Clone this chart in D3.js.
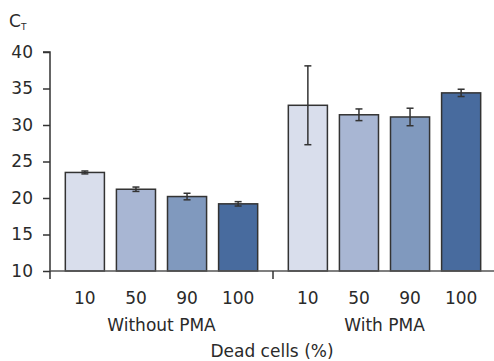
<!DOCTYPE html>
<html>
<head>
<meta charset="utf-8">
<script src="https://cdn.jsdelivr.net/npm/d3@7"></script>
<style>
  body { margin: 0; background: #fff; }
  text { font-family: "DejaVu Sans", sans-serif; fill: #2a2a2a; }
</style>
</head>
<body>
<script>
// data
var groups = ["Without PMA", "With PMA"];
var categories = ["10", "50", "90", "100"];
var withoutPMA = [23.5, 21.2, 20.2, 19.2];
var withoutErr = [0.2, 0.3, 0.45, 0.3];
var withPMA = [32.7, 31.4, 31.1, 34.4];
var withErr = [5.4, 0.8, 1.2, 0.5];
var yTicks = [10, 15, 20, 25, 30, 35, 40];
var colors = ["#d9deec", "#a8b6d3", "#8099be", "#486b9e"];

var rows = [];
categories.forEach(function (c, i) {
    rows.push({ group: groups[0], cat: c, i: i, v: withoutPMA[i], e: withoutErr[i] });
});
categories.forEach(function (c, i) {
    rows.push({ group: groups[1], cat: c, i: i, v: withPMA[i], e: withErr[i] });
});

var width = 494, height = 361;
var svg = d3.select("body").append("svg")
    .attr("width", width).attr("height", height);

var y = d3.scaleLinear().domain([10, 40]).range([271, 52]);

var x0 = d3.scaleBand().domain(groups).range([50, 496]);
var x1 = d3.scaleBand().domain(categories)
    .range([0, x0.bandwidth()])
    .paddingInner(0.235).paddingOuter(0.3);

// y axis
var yAxis = svg.append("g")
    .attr("transform", "translate(50,0)")
    .call(d3.axisLeft(y).tickValues(yTicks).tickSize(7).tickPadding(10));
yAxis.select(".domain").attr("stroke", "#333").attr("stroke-width", 1.5)
    .attr("d", "M-7," + y(40) + "H0V" + y(10));
yAxis.selectAll(".tick line").attr("stroke", "#333").attr("stroke-width", 1.5);
yAxis.selectAll(".tick text").attr("font-size", 17).attr("fill", "#2a2a2a")
    .attr("font-family", "DejaVu Sans, sans-serif");

// bars
svg.append("g").selectAll("rect")
    .data(rows).enter().append("rect")
    .attr("x", function (d) { return x0(d.group) + x1(d.cat); })
    .attr("y", function (d) { return y(d.v); })
    .attr("width", x1.bandwidth())
    .attr("height", function (d) { return y(10) - y(d.v); })
    .attr("fill", function (d) { return colors[d.i]; })
    .attr("stroke", "#333")
    .attr("stroke-width", 1.5);

// x axis
var xAxis = svg.append("g")
    .attr("transform", "translate(0," + y(10) + ")");
xAxis.append("line")
    .attr("x1", 50).attr("x2", width)
    .attr("stroke", "#555").attr("stroke-width", 1.5);
xAxis.selectAll(".gtick")
    .data(groups).enter().append("line")
    .attr("x1", function (d) { return x0(d); })
    .attr("x2", function (d) { return x0(d); })
    .attr("y1", 0).attr("y2", 8)
    .attr("stroke", "#333").attr("stroke-width", 1.5);

// error bars
var err = svg.append("g").attr("stroke", "#333").attr("stroke-width", 1.5);
rows.forEach(function (d) {
    var cx = x0(d.group) + x1(d.cat) + x1.bandwidth() / 2;
    err.append("line").attr("x1", cx).attr("x2", cx)
        .attr("y1", y(d.v + d.e)).attr("y2", y(d.v - d.e));
    [d.v + d.e, d.v - d.e].forEach(function (t) {
        err.append("line").attr("x1", cx - 3.5).attr("x2", cx + 3.5)
            .attr("y1", y(t)).attr("y2", y(t));
    });
});

// category labels
svg.append("g").selectAll("text")
    .data(rows).enter().append("text")
    .attr("x", function (d) { return x0(d.group) + x1(d.cat) + x1.bandwidth() / 2; })
    .attr("y", 304)
    .attr("text-anchor", "middle")
    .attr("font-size", 17)
    .text(function (d) { return d.cat; });

// group labels
svg.append("g").selectAll("text")
    .data(groups).enter().append("text")
    .attr("x", function (d) { return x0(d) + x1(categories[0]) + (x1(categories[3]) + x1.bandwidth() - x1(categories[0])) / 2; })
    .attr("y", 331)
    .attr("text-anchor", "middle")
    .attr("font-size", 17)
    .text(function (d) { return d; });

// axis title
svg.append("text")
    .attr("x", 272).attr("y", 357)
    .attr("text-anchor", "middle")
    .attr("font-size", 17)
    .text("Dead cells (%)");

// y label C_T
var ct = svg.append("text").attr("x", 9).attr("y", 27).attr("font-size", 17);
ct.append("tspan").text("C");
ct.append("tspan").attr("font-size", 9).attr("dy", 3).text("T");
</script>
</body>
</html>
